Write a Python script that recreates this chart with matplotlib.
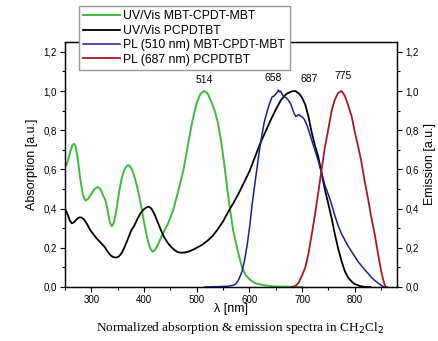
import numpy as np
import matplotlib
matplotlib.use('Agg')
import matplotlib.pyplot as plt
from matplotlib.ticker import MultipleLocator, FuncFormatter

plt.rcParams['font.family'] = ['Liberation Sans', 'DejaVu Sans']

# UV/Vis MBT-CPDT-MBT (green)
wl_abs_mbt = [250, 255, 260, 264, 267, 270, 274, 279, 284, 289, 294, 300, 306, 312, 317, 322,
              327, 331, 335, 339, 343, 348, 353, 358, 363, 368, 372, 377, 382, 388, 394, 400,
              406, 411, 416, 421, 427, 435, 445, 455, 465, 475, 485, 492, 500, 507, 514, 520,
              527, 534, 540, 547, 553, 558, 564, 569, 574, 580, 586, 593, 600, 610, 625, 645, 700]
abs_mbt = [0.61, 0.64, 0.69, 0.725, 0.73, 0.72, 0.66, 0.55, 0.47, 0.44, 0.45, 0.475, 0.50, 0.51, 0.50, 0.47,
           0.44, 0.39, 0.33, 0.31, 0.33, 0.40, 0.49, 0.56, 0.60, 0.62, 0.62, 0.60, 0.56, 0.50, 0.42, 0.33,
           0.25, 0.20, 0.18, 0.19, 0.22, 0.27, 0.32, 0.39, 0.49, 0.60, 0.75, 0.85, 0.94, 0.985, 1.0, 0.99,
           0.95, 0.90, 0.84, 0.73, 0.61, 0.50, 0.38, 0.29, 0.23, 0.16, 0.10, 0.06, 0.04, 0.02, 0.01, 0.003, 0.0]

# UV/Vis PCPDTBT (black)
wl_abs_pcp = [250, 255, 259, 263, 267, 272, 277, 281, 286, 292, 298, 305, 311, 318, 325, 331,
              337, 342, 347, 352, 358, 364, 370, 376, 381, 387, 393, 399, 404, 409, 414, 420,
              426, 432, 438, 445, 451, 458, 464, 470, 478, 486, 493, 500, 510, 520, 530, 540,
              550, 560, 570, 580, 590, 600, 610, 620, 630, 640, 650, 660, 670, 680, 687, 695,
              700, 706, 712, 718, 724, 731, 737, 743, 750, 756, 762, 768, 775, 781, 788, 795,
              800, 810, 820, 830]
abs_pcp = [0.40, 0.37, 0.34, 0.325, 0.33, 0.345, 0.355, 0.355, 0.345, 0.32, 0.29, 0.265, 0.245, 0.225, 0.205, 0.18,
           0.16, 0.152, 0.15, 0.155, 0.175, 0.21, 0.25, 0.29, 0.31, 0.345, 0.375, 0.395, 0.405, 0.41, 0.40, 0.37,
           0.33, 0.29, 0.255, 0.225, 0.205, 0.188, 0.178, 0.175, 0.176, 0.182, 0.19, 0.20, 0.215, 0.235, 0.26, 0.295,
           0.335, 0.385, 0.43, 0.48, 0.535, 0.59, 0.66, 0.73, 0.79, 0.85, 0.905, 0.955, 0.985, 0.998, 1.0, 0.985,
           0.965, 0.93, 0.87, 0.79, 0.725, 0.66, 0.58, 0.50, 0.42, 0.35, 0.27, 0.20, 0.13, 0.08, 0.045, 0.025,
           0.015, 0.005, 0.0, 0.0]

# PL (510 nm) MBT-CPDT-MBT (blue)
wl_pl_mbt = [515, 540, 560, 568, 574, 580, 586, 591, 596, 601, 605, 610, 615, 619, 624, 628,
             633, 638, 643, 647, 650, 653, 655, 657, 659, 661, 664, 667, 670, 673, 676, 679,
             682, 685, 688, 691, 694, 697, 700, 703, 706, 710, 714, 718, 724, 731, 737, 743,
             750, 756, 762, 768, 775, 781, 787, 794, 800, 806, 812, 818, 825, 831, 837, 844,
             850, 856, 862]
pl_mbt = [0.0, 0.002, 0.004, 0.008, 0.015, 0.04, 0.08, 0.14, 0.22, 0.32, 0.42, 0.52, 0.62, 0.70, 0.78, 0.84,
          0.89, 0.935, 0.97, 0.975, 0.985, 0.995, 1.005, 0.995, 1.0, 0.99, 0.975, 0.97, 0.965, 0.955, 0.945, 0.93,
          0.905, 0.885, 0.87, 0.875, 0.88, 0.872, 0.868, 0.86, 0.845, 0.82, 0.785, 0.75, 0.70, 0.64, 0.58, 0.52,
          0.47, 0.42, 0.365, 0.315, 0.27, 0.24, 0.21, 0.18, 0.155, 0.13, 0.11, 0.09, 0.07, 0.05, 0.035, 0.02,
          0.008, 0.0, 0.0]

# PL (687 nm) PCPDTBT (red)
wl_pl_pcp = [680, 687, 693, 700, 706, 712, 718, 725, 731, 737, 743, 750, 756, 762, 768, 775,
             781, 787, 794, 800, 806, 812, 818, 825, 831, 838, 844, 850, 855, 858]
pl_pcp = [0.0, 0.005, 0.02, 0.06, 0.10, 0.17, 0.265, 0.38, 0.49, 0.60, 0.71, 0.81, 0.90, 0.955, 0.99, 1.0,
          0.975, 0.93, 0.87, 0.79, 0.72, 0.645, 0.55, 0.45, 0.36, 0.265, 0.17, 0.08, 0.025, 0.0]

peak_labels = ['514', '658', '687', '775']
peak_wl = [514, 658, 687, 775]

fig = plt.figure(figsize=(4.38, 3.41), dpi=100)
ax = fig.add_axes([0.1484, 0.1584, 0.758, 0.7184])
ax2 = ax.twinx()

l1, = ax.plot(wl_abs_mbt, abs_mbt, color='#3dba3d', lw=1.4)
l2, = ax.plot(wl_abs_pcp, abs_pcp, color='black', lw=1.3)
l3, = ax2.plot(wl_pl_mbt, pl_mbt, color='#1c1ca0', lw=1.1)
l4, = ax2.plot(wl_pl_pcp, pl_pcp, color='#a51a22', lw=1.3)

comma = FuncFormatter(lambda v, p: ('%.1f' % v).replace('.', ','))
for a in (ax, ax2):
    a.set_xlim(250, 880)
    a.set_ylim(0, 1.25)
    a.yaxis.set_major_locator(MultipleLocator(0.2))
    a.yaxis.set_minor_locator(MultipleLocator(0.1))
    a.yaxis.set_major_formatter(comma)
    a.tick_params(which='major', direction='out', length=3.5, width=0.8, labelsize=7, pad=2.5)
    a.tick_params(which='minor', direction='out', length=2, width=0.8)
    for s in a.spines.values():
        s.set_linewidth(0.9)
ax.xaxis.set_major_locator(MultipleLocator(100))
ax.xaxis.set_minor_locator(MultipleLocator(50))

ax.set_ylabel('Absorption [a.u.]', fontsize=9, labelpad=4)
ax2.set_ylabel('Emission [a.u.]', fontsize=9, labelpad=4)
ax.set_xlabel('λ [nm]', fontsize=9, labelpad=-2)

offsets = [(0, 4), (-5, 6), (10, 5), (1, 7)]
for lab, w, off in zip(peak_labels, peak_wl, offsets):
    ax.annotate(lab, xy=(w, 1.0), xytext=off, textcoords='offset points',
                ha='center', va='bottom', fontsize=7.5)

fig.legend([l1, l2, l3, l4],
           ['UV/Vis MBT-CPDT-MBT', 'UV/Vis PCPDTBT', 'PL (510 nm) MBT-CPDT-MBT', 'PL (687 nm) PCPDTBT'],
           loc='upper left', bbox_to_anchor=(0.180, 0.982), borderaxespad=0,
           fontsize=8.8, frameon=True, fancybox=False, edgecolor='#999999',
           framealpha=1, handlelength=3.0, handletextpad=0.3, labelspacing=0.2,
           borderpad=0.35)

fig.text(0.548, 0.038, 'Normalized absorption & emission spectra in CH$_2$Cl$_2$',
         ha='center', va='center', fontsize=9.5, family='Liberation Serif')

fig.savefig('out.png', dpi=100)
